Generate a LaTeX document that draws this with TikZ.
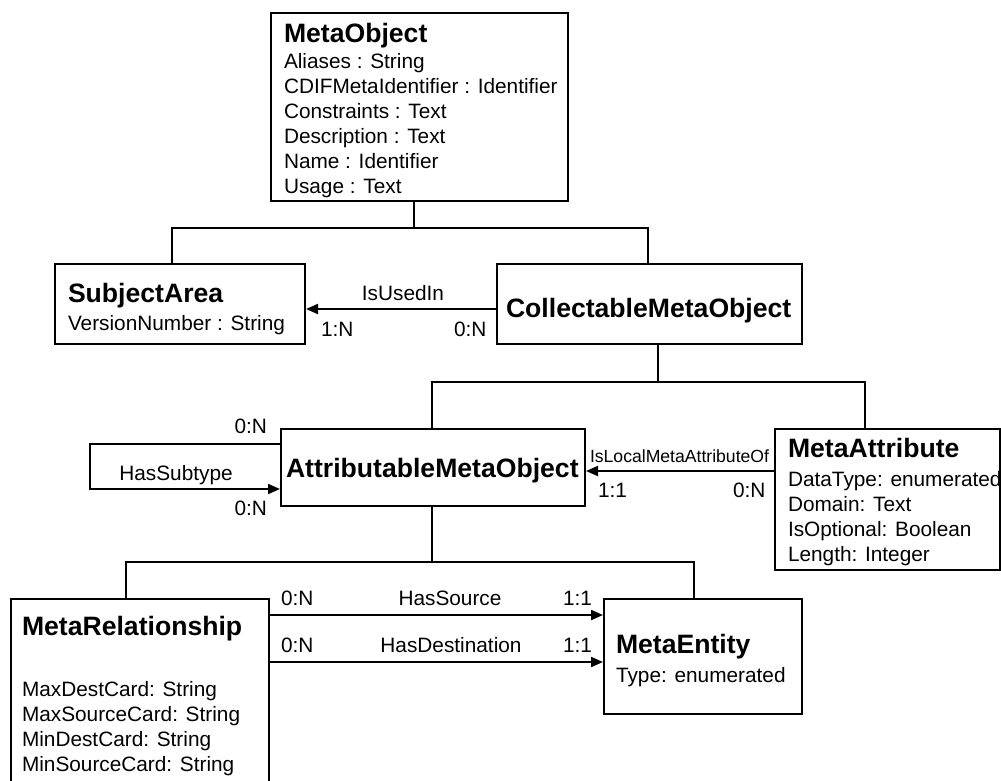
\documentclass[tikz,border=0pt]{standalone}
\usepackage{fontspec}
\setmainfont{Liberation Sans}
\usetikzlibrary{arrows.meta}
\begin{document}
\begin{tikzpicture}[x=1pt,y=-1pt,line width=2pt,
  box/.style={draw, line width=2pt, anchor=north west, inner sep=0pt},
  title/.style={anchor=base west, inner sep=0pt, font=\fontsize{26.6}{30}\selectfont\bfseries},
  attr/.style={anchor=base west, inner sep=0pt, font=\fontsize{20.8}{25}\selectfont},
  rolename/.style={anchor=base, inner sep=0pt, font=\fontsize{20.8}{25}\selectfont},
  smallrole/.style={anchor=base west, inner sep=0pt, font=\fontsize{17.6}{20}\selectfont},
  card/.style={anchor=base west, inner sep=0pt, font=\fontsize{20.8}{25}\selectfont},
  arr/.style={-{Triangle[length=12pt,width=10pt]}}]
\useasboundingbox (0,0) rectangle (1001,780);
\clip (0,0) rectangle (1001,780);

% ---- classes ----
\node[box, minimum width=297pt, minimum height=188pt] (mo)  at (270,12)  {};
\node[box, minimum width=250pt, minimum height=80pt]  (sa)  at (54,263)  {};
\node[box, minimum width=305pt, minimum height=80pt]  (cmo) at (496,263) {};
\node[box, minimum width=304pt, minimum height=77pt]  (amo) at (280,428) {};
\node[box, minimum width=225pt, minimum height=141pt] (ma)  at (774,428) {};
\node[box, minimum width=258pt, minimum height=200pt] (mr)  at (10,598)  {};
\node[box, minimum width=198pt, minimum height=115pt] (me)  at (603,598) {};

% MetaObject
\node[title] (mo-t) at (283,42) {MetaObject};
\foreach \txt [count=\i from 0] in {Aliases  : String, CDIFMetaIdentifier : Identifier,
    Constraints : Text, Description : Text, Name : Identifier, Usage : Text}
  \node[attr] (mo-\i) at (283,68+25*\i) {\txt};

% SubjectArea
\node[title] (sa-t) at (67,302) {SubjectArea};
\node[attr]  (sa-0) at (67,330) {VersionNumber : String};

% CollectableMetaObject
\node[title] (cmo-t) at (505,317) {CollectableMetaObject};

% AttributableMetaObject
\node[title] (amo-t) at (285,477) {AttributableMetaObject};

% MetaAttribute
\node[title] (ma-t) at (787,457) {MetaAttribute};
\foreach \txt [count=\i from 0] in {DataType: enumerated, Domain: Text,
    IsOptional: Boolean, Length: Integer}
  \node[attr] (ma-\i) at (787,486+25*\i) {\txt};

% MetaRelationship
\node[title] (mr-t) at (21,635) {MetaRelationship};
\foreach \txt [count=\i from 0] in {MaxDestCard: String, MaxSourceCard: String,
    MinDestCard: String, MinSourceCard: String}
  \node[attr] (mr-\i) at (21,696+25*\i) {\txt};

% MetaEntity
\node[title] (me-t) at (615,653) {MetaEntity};
\node[attr]  (me-0) at (615,682) {Type: enumerated};

% ---- generalisation trees ----
\coordinate (g1) at (414,228);
\coordinate (g1a) at (172,228);
\coordinate (g1b) at (648,228);
\draw (g1 |- mo.south) -- (g1);
\draw (g1a |- sa.north) -- (g1a) -- (g1b) -- (g1b |- cmo.north);

\coordinate (g2) at (658,382);
\coordinate (g2a) at (432,382);
\coordinate (g2b) at (865,382);
\draw (g2 |- cmo.south) -- (g2);
\draw (g2a |- amo.north) -- (g2a) -- (g2b) -- (g2b |- ma.north);

\coordinate (g3) at (432,562);
\coordinate (g3a) at (126,562);
\coordinate (g3b) at (694,562);
\draw (g3 |- amo.south) -- (g3);
\draw (g3a |- mr.north) -- (g3a) -- (g3b) -- (g3b |- me.north);

% ---- associations ----
% IsUsedIn
\coordinate (yUsed) at (0,309);
\draw[arr] (cmo.west |- yUsed) -- (sa.east |- yUsed);
\node[rolename] (l-used) at (403,300) {IsUsedIn};
\node[card] (c-used1) at (320,336) {1:N};
\node[card] (c-used2) at (453,336) {0:N};

% HasSubtype (self association)
\coordinate (sub1) at (90,444);
\coordinate (sub2) at (90,489);
\draw[arr] (amo.west |- sub1) -- (sub1) -- (sub2) -- (amo.west |- sub2);
\node[rolename] (l-sub) at (176,480) {HasSubtype};
\node[card, anchor=base east] (c-sub1) at (268,433) {0:N};
\node[card, anchor=base east] (c-sub2) at (268,515) {0:N};

% IsLocalMetaAttributeOf
\coordinate (yLocal) at (0,471);
\draw[arr] (ma.west |- yLocal) -- (amo.east |- yLocal);
\node[smallrole] (l-local) at (589,462) {IsLocalMetaAttributeOf};
\node[card] (c-local1) at (597,497) {1:1};
\node[card] (c-local2) at (732,497) {0:N};

% HasSource / HasDestination
\coordinate (ySrc) at (0,615);
\coordinate (yDst) at (0,662);
\draw[arr] (mr.east |- ySrc) -- (me.west |- ySrc);
\draw[arr] (mr.east |- yDst) -- (me.west |- yDst);
\node[card] (c-src1) at (280,605) {0:N};
\node[rolename] (l-src) at (450,605) {HasSource};
\node[card] (c-src2) at (562,605) {1:1};
\node[card] (c-dst1) at (280,652) {0:N};
\node[rolename] (l-dst) at (451,652) {HasDestination};
\node[card] (c-dst2) at (562,652) {1:1};
\end{tikzpicture}
\end{document}
